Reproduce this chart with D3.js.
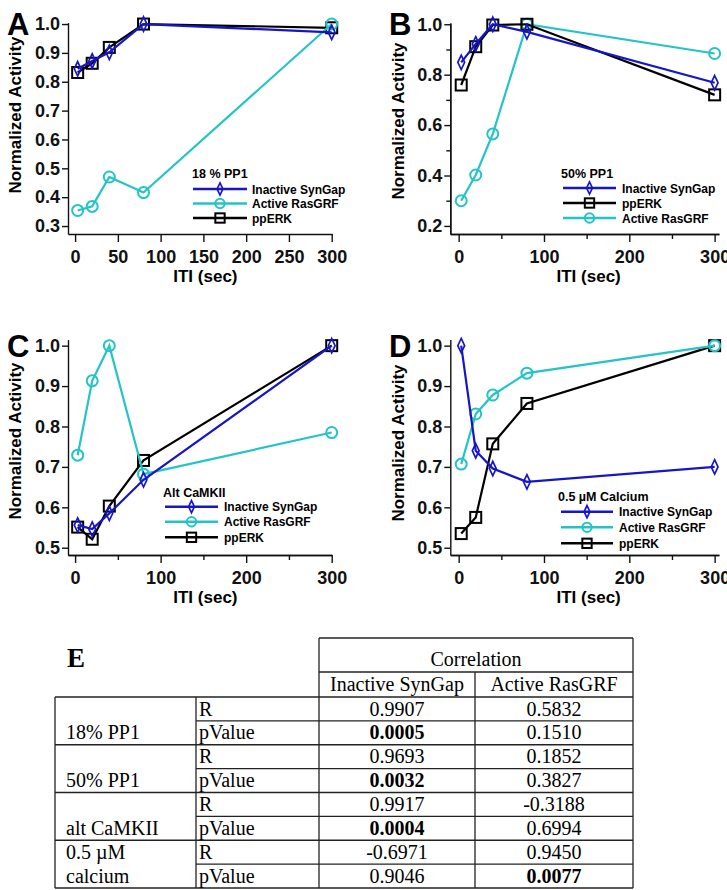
<!DOCTYPE html>
<html>
<head>
<meta charset="utf-8">
<script src="https://cdn.jsdelivr.net/npm/d3@7"></script>
<style>
body { margin: 0; background: #fff; }
svg text { font-family: "Liberation Sans", Arial, sans-serif; font-weight: bold; }
svg .tbl text { font-family: "Liberation Serif", "Times New Roman", serif; font-weight: normal; }
</style>
</head>
<body>
<script>
// ITI values (sec) shared by every panel
var iti = [3, 20, 40, 80, 300];

// A: 18 % PP1
var synGapA = [0.845, 0.872, 0.902, 1.0, 0.971],
    rasGrfA = [0.354, 0.368, 0.470, 0.416, 1.0],
    erkA    = [0.832, 0.864, 0.919, 1.0, 0.987];
// B: 50% PP1
var synGapB = [0.849, 0.922, 1.0, 0.970, 0.768],
    erkB    = [0.759, 0.911, 0.997, 1.0, 0.720],
    rasGrfB = [0.300, 0.402, 0.565, 1.0, 0.884];
// C: Alt CaMKII
var synGapC = [0.556, 0.546, 0.585, 0.668, 1.0],
    rasGrfC = [0.729, 0.913, 1.0, 0.682, 0.785],
    erkC    = [0.551, 0.521, 0.603, 0.716, 1.0];
// D: 0.5 uM Calcium
var synGapD = [1.0, 0.740, 0.696, 0.663, 0.700],
    rasGrfD = [0.707, 0.831, 0.878, 0.932, 1.0],
    erkD    = [0.535, 0.575, 0.757, 0.857, 1.0];

// tick labels
var xTicksA = [0, 50, 100, 150, 200, 250, 300],
    xTicksB = [0, 100, 200, 300],
    xMinorB = [50, 150, 250],
    yTicksA = [0.3, 0.4, 0.5, 0.6, 0.7, 0.8, 0.9, 1.0],
    yTicksB = [0.2, 0.4, 0.6, 0.8, 1.0],
    yMinorB = [0.3, 0.5, 0.7, 0.9],
    yTicksC = [0.5, 0.6, 0.7, 0.8, 0.9, 1.0];

// table E
var conditions = [["18% PP1"], ["50% PP1"], ["alt CaMKII"], ["0.5 \u00b5M", "calcium"]],
    corrColumns = ["Inactive SynGap", "Active RasGRF"],
    synGapR = [0.9907, 0.9693, 0.9917, -0.6971],
    synGapP = [0.0005, 0.0032, 0.0004, 0.9046],
    rasGrfR = [0.5832, 0.1852, -0.3188, 0.9450],
    rasGrfP = [0.1510, 0.3827, 0.6994, 0.0077];

var width = 727, height = 890;
var blue = "#1616c8", cyan = "#24c4c6", black = "#000";

var svg = d3.select("body").append("svg")
    .attr("width", width)
    .attr("height", height);

var styles = {
  syn: { name: "Inactive SynGap", color: blue, marker: "diamond" },
  ras: { name: "Active RasGRF", color: cyan, marker: "circle" },
  erk: { name: "ppERK", color: black, marker: "square" }
};

var panels = [
  { letter: "A", lx: 7, ly: 35, title: "18 % PP1",
    xd: [-8.3, 300], xr: [68, 331.7], yd: [0.2724, 1.005], yr: [234, 22.6],
    xt: xTicksA, xm: [], yt: yTicksA, ym: [],
    ytx: 15, yty: 115,
    series: { syn: synGapA, ras: rasGrfA, erk: erkA }, order: ["syn", "ras", "erk"],
    leg: { tx: 192, ty: 178, rows: [189, 203.5, 218], x0: 193, x1: 247, text: 252 } },
  { letter: "B", lx: 389, ly: 35, title: "50% PP1",
    xd: [-9.8, 305], xr: [450.3, 718.9], yd: [0.168, 1.005], yr: [234, 23.0],
    xt: xTicksB, xm: xMinorB, yt: yTicksB, ym: yMinorB,
    ytx: 398, yty: 121,
    series: { syn: synGapB, erk: erkB, ras: rasGrfB }, order: ["syn", "erk", "ras"],
    leg: { tx: 561, ty: 178, rows: [188, 203, 218], x0: 563, x1: 616, text: 622 } },
  { letter: "C", lx: 7, ly: 357, title: "Alt CaMKII",
    xd: [-8.3, 300], xr: [68, 331.7], yd: [0.482, 1.015], yr: [555, 339.6],
    xt: xTicksB, xm: xMinorB, yt: yTicksC, ym: [],
    ytx: 15, yty: 441,
    series: { syn: synGapC, ras: rasGrfC, erk: erkC }, order: ["syn", "ras", "erk"],
    leg: { tx: 163, ty: 497, rows: [506.7, 521.7, 537.3], x0: 165, x1: 218, text: 224 } },
  { letter: "D", lx: 389, ly: 357, title: "0.5 \u00b5M Calcium",
    xd: [-9.8, 305], xr: [450.3, 718.9], yd: [0.482, 1.015], yr: [555, 339.6],
    xt: xTicksB, xm: xMinorB, yt: yTicksC, ym: [],
    ytx: 398, yty: 443,
    series: { syn: synGapD, ras: rasGrfD, erk: erkD }, order: ["syn", "ras", "erk"],
    leg: { tx: 558, ty: 501, rows: [511.7, 527.3, 543.3], x0: 561, x1: 613, text: 619 } }
];

function addMarker(g, type, color, cx, cy, s) {
  if (type === "circle") {
    g.append("circle").attr("cx", cx).attr("cy", cy).attr("r", 5.5 * s)
        .attr("fill", "none").attr("stroke", color).attr("stroke-width", 2);
  } else if (type === "square") {
    var h = 5.5 * s;
    g.append("rect").attr("x", cx - h).attr("y", cy - h)
        .attr("width", 2 * h).attr("height", 2 * h)
        .attr("fill", "none").attr("stroke", color).attr("stroke-width", 2);
  } else {
    var w = 3.4 * s, t = 7.2 * s;
    g.append("path")
        .attr("d", "M" + cx + "," + (cy - t) + "L" + (cx + w) + "," + cy +
                   "L" + cx + "," + (cy + t) + "L" + (cx - w) + "," + cy + "Z")
        .attr("fill", "none").attr("stroke", color).attr("stroke-width", 1.7);
  }
}

function styleAxis(g) {
  g.selectAll("path, line").attr("stroke", "#111").attr("stroke-width", 1.4);
  g.selectAll("text").attr("fill", "#111").style("font-size", "18px")
      .style("font-family", "'Liberation Sans', Arial, sans-serif").style("font-weight", "bold");
}

panels.forEach(function(p) {
  var x = d3.scaleLinear().domain(p.xd).range(p.xr),
      y = d3.scaleLinear().domain(p.yd).range(p.yr);
  var g = svg.append("g");
  var x0 = p.xr[0], yBase = p.yr[0];

  // minor ticks first, then labelled ones
  if (p.xm.length) {
    g.append("g").attr("transform", "translate(0," + yBase + ")")
        .call(d3.axisBottom(x).tickValues(p.xm).tickSize(5).tickSizeOuter(0).tickFormat(""))
        .call(styleAxis);
  }
  g.append("g").attr("transform", "translate(0," + yBase + ")")
      .call(d3.axisBottom(x).tickValues(p.xt).tickSize(8).tickSizeOuter(0)
          .tickPadding(8).tickFormat(d3.format("d")))
      .call(styleAxis);

  if (p.ym.length) {
    g.append("g").attr("transform", "translate(" + x0 + ",0)")
        .call(d3.axisLeft(y).tickValues(p.ym).tickSize(4).tickSizeOuter(0).tickFormat(""))
        .call(styleAxis);
  }
  g.append("g").attr("transform", "translate(" + x0 + ",0)")
      .call(d3.axisLeft(y).tickValues(p.yt).tickSize(6).tickSizeOuter(0)
          .tickPadding(2).tickFormat(d3.format(".1f")))
      .call(styleAxis);

  // axis titles
  g.append("text")
      .attr("x", x(150) + 2).attr("y", yBase + 48)
      .attr("text-anchor", "middle").style("font-size", "17px")
      .text("ITI (sec)");
  g.append("text")
      .attr("transform", "translate(" + p.ytx + "," + p.yty + ") rotate(-90)")
      .attr("dy", "0.35em")
      .attr("text-anchor", "middle").style("font-size", "17px")
      .text("Normalized Activity");

  // panel letter
  g.append("text").attr("x", p.lx).attr("y", p.ly)
      .style("font-size", "31px").text(p.letter);

  // series, last legend entry drawn first
  var line = d3.line()
      .x(function(d, i) { return x(iti[i]); })
      .y(function(d) { return y(d); });

  p.order.slice().reverse().forEach(function(k) {
    var st = styles[k], vals = p.series[k];
    var sg = g.append("g");
    sg.append("path").datum(vals)
        .attr("d", line)
        .attr("fill", "none").attr("stroke", st.color).attr("stroke-width", 2.2);
    vals.forEach(function(v, i) {
      addMarker(sg, st.marker, st.color, x(iti[i]), y(v), 1);
    });
  });

  // legend
  var lg = g.append("g");
  lg.append("text").attr("x", p.leg.tx).attr("y", p.leg.ty)
      .style("font-size", "12.5px").text(p.title);
  p.order.forEach(function(k, i) {
    var st = styles[k], ry = p.leg.rows[i];
    lg.append("line").attr("x1", p.leg.x0).attr("x2", p.leg.x1)
        .attr("y1", ry).attr("y2", ry)
        .attr("stroke", st.color).attr("stroke-width", 2.4);
    addMarker(lg, st.marker, st.color, (p.leg.x0 + p.leg.x1) / 2, ry, 0.85);
    lg.append("text").attr("x", p.leg.text).attr("y", ry + 4.5)
        .style("font-size", "12px").text(st.name);
  });
});

// ---- table E ----
var colX = [55, 196, 319, 475, 633],
    headTop = 638, subTop = 672, bodyTop = 697, rowH = 23.875,
    bodyBottom = bodyTop + rowH * 8;

var tb = svg.append("g").attr("class", "tbl");

function hline(x1, x2, yy) {
  tb.append("line").attr("x1", x1).attr("x2", x2).attr("y1", yy).attr("y2", yy)
      .attr("stroke", "#222").attr("stroke-width", 1.3);
}
function vline(xx, y1, y2) {
  tb.append("line").attr("x1", xx).attr("x2", xx).attr("y1", y1).attr("y2", y2)
      .attr("stroke", "#222").attr("stroke-width", 1.3);
}

hline(colX[2], colX[4], headTop);
hline(colX[2], colX[4], subTop);
vline(colX[2], headTop, bodyBottom);
vline(colX[4], headTop, bodyBottom);
vline(colX[3], subTop, bodyBottom);
vline(colX[0], bodyTop, bodyBottom);
vline(colX[1], bodyTop, bodyBottom);
for (var r = 0; r <= 8; r++) {
  hline(r % 2 === 0 ? colX[0] : colX[1], colX[4], bodyTop + r * rowH);
}

tb.append("text").attr("x", 67).attr("y", 667)
    .style("font-size", "27px").style("font-weight", "bold").text("E");
tb.append("text").attr("x", (colX[2] + colX[4]) / 2).attr("y", 666)
    .attr("text-anchor", "middle").style("font-size", "20px").text("Correlation");
corrColumns.forEach(function(c, i) {
  tb.append("text").attr("x", (colX[2 + i] + colX[3 + i]) / 2).attr("y", 691)
      .attr("text-anchor", "middle").style("font-size", "20px").text(c);
});

function fmt(v) { return v.toFixed(4); }

conditions.forEach(function(lines, i) {
  var rY = bodyTop + 2 * i * rowH + 18.5, pY = rY + rowH;
  if (lines.length === 1) {
    tb.append("text").attr("x", 66).attr("y", pY).style("font-size", "20px").text(lines[0]);
  } else {
    tb.append("text").attr("x", 66).attr("y", rY).style("font-size", "20px").text(lines[0]);
    tb.append("text").attr("x", 66).attr("y", pY).style("font-size", "20px").text(lines[1]);
  }
  tb.append("text").attr("x", 199).attr("y", rY).style("font-size", "20px").text("R");
  tb.append("text").attr("x", 199).attr("y", pY).style("font-size", "20px").text("pValue");

  var cells = [
    [synGapR[i], synGapP[i]],
    [rasGrfR[i], rasGrfP[i]]
  ];
  cells.forEach(function(c, j) {
    var cx = (colX[2 + j] + colX[3 + j]) / 2;
    tb.append("text").attr("x", cx).attr("y", rY).attr("text-anchor", "middle")
        .style("font-size", "20px").text(fmt(c[0]));
    tb.append("text").attr("x", cx).attr("y", pY).attr("text-anchor", "middle")
        .style("font-size", "20px").style("font-weight", c[1] < 0.05 ? "bold" : "normal")
        .text(fmt(c[1]));
  });
});
</script>
</body>
</html>
